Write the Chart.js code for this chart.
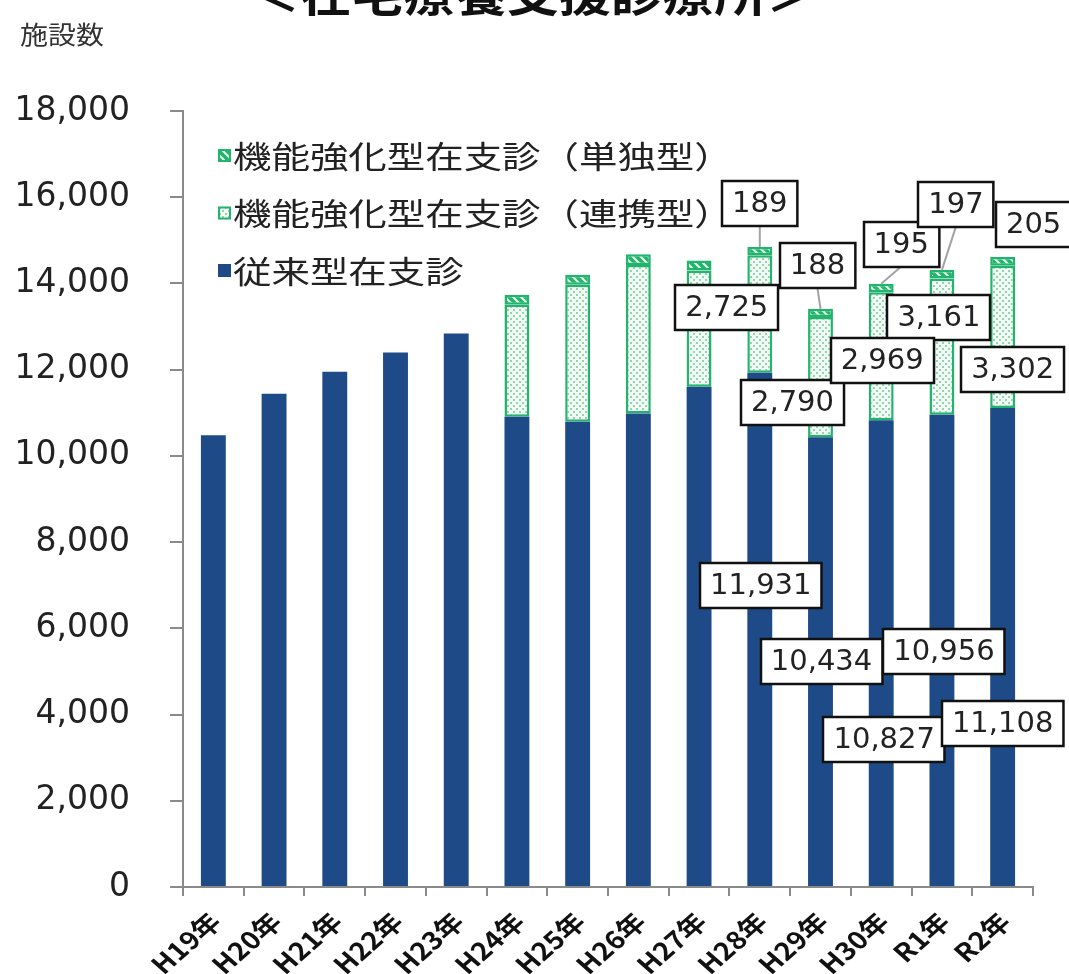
<!DOCTYPE html>
<html><head><meta charset="utf-8">
<script src="https://cdn.jsdelivr.net/npm/chart.js@4/dist/chart.umd.min.js"></script>
<style>html,body{margin:0;padding:0;background:#fff;}#wrap{position:relative;width:1069px;height:974px;}</style>
</head><body><div id="wrap"><canvas id="c" width="1069" height="974"></canvas></div>
<script>
// ---- data ----
const categories = ['H19年','H20年','H21年','H22年','H23年','H24年','H25年','H26年','H27年','H28年','H29年','H30年','R1年','R2年'];
const conventional = [10480, 11440, 11950, 12400, 12840, 10906, 10790, 10985, 11602, 11931, 10434, 10827, 10956, 11108];
const linked       = [null, null, null, null, null, 2600, 3180, 3440, 2700, 2725, 2790, 2969, 3161, 3302];
const single       = [null, null, null, null, null, 230, 230, 255, 230, 189, 188, 195, 197, 205];
const seriesNames = ['従来型在支診', '機能強化型在支診（連携型）', '機能強化型在支診（単独型）'];
const yMin = 0, yMax = 18000, yStep = 2000;
const titleText = '＜在宅療養支援診療所＞';
const yUnitText = '施設数';

// ---- styles / layout ----
const NAVY = '#1E4B87';
const GREEN = '#22B46C';
const AXIS = '#8a8a8a';

function makeDots(){
  const c = document.createElement('canvas'); c.width = 6; c.height = 6;
  const g = c.getContext('2d');
  g.fillStyle = '#f1faf4'; g.fillRect(0,0,6,6);
  g.fillStyle = '#93d5af'; g.fillRect(0,0,2,2); g.fillRect(3,3,2,2);
  return g.createPattern(c,'repeat');
}
function makeStripes(){
  const c = document.createElement('canvas'); c.width = 8; c.height = 8;
  const g = c.getContext('2d');
  g.fillStyle = GREEN; g.fillRect(0,0,8,8);
  g.strokeStyle = '#e9f8ef'; g.lineWidth = 2;
  g.beginPath();
  g.moveTo(-2,-2); g.lineTo(10,10);
  g.moveTo(-6,2); g.lineTo(2,10);
  g.moveTo(2,-6); g.lineTo(10,2);
  g.stroke();
  return g.createPattern(c,'repeat');
}
const dotPattern = makeDots();
const stripePattern = makeStripes();

// label layout: [datasetIndex, categoryIndex, dx, dy, leaderLine]
const labelLayout = [
  [0, 9, 1, -44, false], [0, 10, 1, 0, false], [0, 11, 3, 86, false], [0, 12, 2, 1, false], [0, 13, 0, 76, false],
  [1, 9, -33, -6, false], [1, 10, -28, 25, false], [1, 12, -3, -29, false], [1, 11, 1, 4, false], [1, 13, 10, 33, false],
  [2, 9, 0, -48, true], [2, 10, -3, -47, true], [2, 11, 20, -44, true], [2, 12, 14, -70, true], [2, 13, 31, -37, false]
];

const labelPlugin = {
  id: 'valueLabels',
  afterDatasetsDraw(chart){
    const ctx = chart.ctx;
    ctx.save();
    ctx.font = '29px "DejaVu Sans"';
    const items = labelLayout.map(([ds, idx, dx, dy, leader]) => {
      const el = chart.getDatasetMeta(ds).data[idx];
      const v = chart.data.datasets[ds].data[idx];
      const text = v.toLocaleString('en-US');
      const cx = el.x + dx, cy = (el.y + el.base) / 2 + dy;
      const w = ctx.measureText(text).width + 20, h = 45;
      return {el, text, cx, cy, w, h, leader};
    });
    ctx.strokeStyle = '#a3a3a3'; ctx.lineWidth = 2;
    items.forEach(it => {
      if (!it.leader) return;
      ctx.beginPath(); ctx.moveTo(it.cx, it.cy + it.h/2); ctx.lineTo(it.el.x, it.el.y); ctx.stroke();
    });
    items.forEach(it => {
      const x = Math.round(it.cx - it.w/2), y = Math.round(it.cy - it.h/2);
      ctx.fillStyle = '#fff'; ctx.fillRect(x, y, it.w, it.h);
      ctx.strokeStyle = '#111'; ctx.lineWidth = 2.5; ctx.strokeRect(x, y, it.w, it.h);
      ctx.fillStyle = '#222'; ctx.textAlign = 'center'; ctx.textBaseline = 'middle';
      ctx.fillText(it.text, it.cx, it.cy + 1);
    });
    ctx.restore();
  }
};

function stretchedText(ctx, text, x, y, sx, align){
  ctx.save();
  ctx.translate(x, y); ctx.scale(sx, 1);
  ctx.textAlign = align || 'left';
  ctx.fillText(text, 0, 0);
  ctx.restore();
}

const decorPlugin = {
  id: 'decor',
  afterDraw(chart){
    const ctx = chart.ctx;
    ctx.save();
    // x category labels: rotated 45°, slightly widened like the source image
    const xs = chart.scales.x;
    ctx.fillStyle = '#111';
    ctx.font = 'bold 25px "Noto Sans CJK JP"';
    ctx.textAlign = 'right'; ctx.textBaseline = 'middle';
    chart.data.labels.forEach((lab, i) => {
      const px = xs.getPixelForValue(i);
      ctx.save();
      ctx.translate(px + 2, xs.top + 30);
      ctx.scale(1.14, 1);
      ctx.rotate(-Math.PI / 4);
      ctx.fillText(lab, 0, 0);
      ctx.restore();
    });
    // title (cut off at top)
    ctx.fillStyle = '#111';
    ctx.font = 'bold 45px "Noto Sans CJK JP"';
    ctx.textBaseline = 'alphabetic';
    stretchedText(ctx, titleText, 533, 12, 1.15, 'center');
    // unit
    ctx.fillStyle = '#333';
    ctx.font = '25px "Noto Sans CJK JP"';
    stretchedText(ctx, yUnitText, 20, 44, 1.12, 'left');
    // legend
    const rows = [
      {name: seriesNames[2], fill: stripePattern, border: GREEN},
      {name: seriesNames[1], fill: dotPattern, border: GREEN},
      {name: seriesNames[0], fill: NAVY, border: null}
    ];
    ctx.font = '31px "Noto Sans CJK JP"';
    rows.forEach((r, i) => {
      const cy = 155 + i * 57.5;
      ctx.fillStyle = r.fill; ctx.fillRect(218, cy - 6, 13, 13);
      if (r.border){ ctx.strokeStyle = r.border; ctx.lineWidth = 2; ctx.strokeRect(219, cy - 5, 11, 11); }
      ctx.fillStyle = '#222';
      ctx.textBaseline = 'middle';
      stretchedText(ctx, r.name, 233, cy + 1, 1.24, 'left');
    });
    ctx.restore();
  }
};

new Chart(document.getElementById('c'), {
  type: 'bar',
  data: {
    labels: categories,
    datasets: [
      {label: seriesNames[0], data: conventional, backgroundColor: NAVY, borderWidth: 0},
      {label: seriesNames[1], data: linked, backgroundColor: dotPattern, borderColor: GREEN, borderWidth: 2.5, borderSkipped: false},
      {label: seriesNames[2], data: single, backgroundColor: stripePattern, borderColor: GREEN, borderWidth: 2.5, borderSkipped: false}
    ]
  },
  options: {
    responsive: false, animation: false, devicePixelRatio: 1,
    layout: {padding: {top: 111, right: 36, bottom: 0, left: 0}},
    datasets: {bar: {barPercentage: 0.41, categoryPercentage: 1.0}},
    plugins: {legend: {display: false}, tooltip: {enabled: false}, title: {display: false}},
    scales: {
      x: {
        stacked: true,
        grid: {display: true, drawOnChartArea: false, drawTicks: true, tickLength: 9, color: AXIS, lineWidth: 2, offset: true},
        border: {display: true, color: AXIS, width: 2},
        ticks: {display: false, autoSkip: false},
        afterFit(s){ s.height = 87; }
      },
      y: {
        stacked: true, min: yMin, max: yMax,
        grid: {display: true, drawOnChartArea: false, drawTicks: true, tickLength: 13, color: AXIS, lineWidth: 2},
        border: {display: true, color: AXIS, width: 2},
        ticks: {stepSize: yStep, padding: 40, color: '#222', font: {family: '"DejaVu Sans"', size: 33},
          callback: v => v.toLocaleString('en-US')},
        afterFit(s){ s.width = 183; }
      }
    }
  },
  plugins: [labelPlugin, decorPlugin]
});
</script></body></html>
